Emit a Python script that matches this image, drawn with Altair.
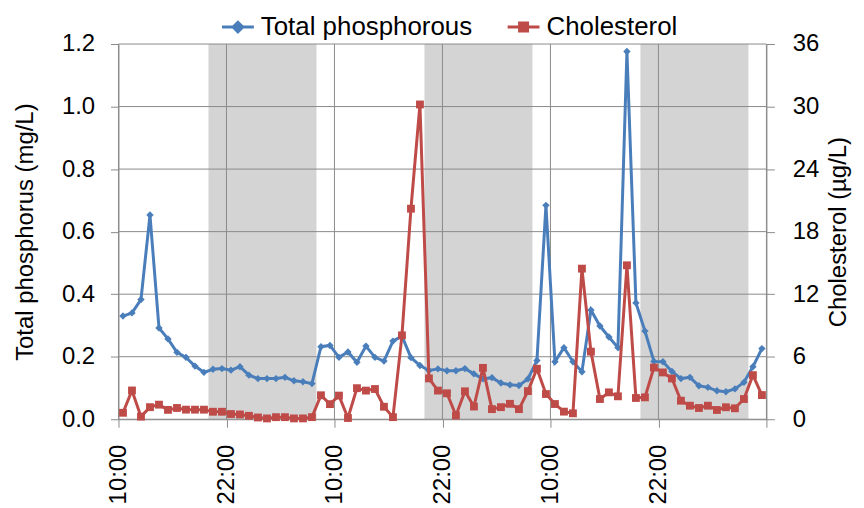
import altair as alt
import pandas as pd

# ---------------- data ----------------
# hourly samples starting 10:30 on day 1
times = pd.date_range("2013-07-01 10:30", periods=72, freq="h").strftime("%Y-%m-%dT%H:%M:%S").tolist()

total_phosphorous = [
    0.330, 0.340, 0.383, 0.653, 0.292, 0.257, 0.214, 0.198, 0.170, 0.150, 0.160, 0.162,
    0.157, 0.168, 0.141, 0.130, 0.130, 0.130, 0.134, 0.123, 0.120, 0.114, 0.232, 0.236,
    0.198, 0.215, 0.182, 0.234, 0.198, 0.186, 0.250, 0.266, 0.197, 0.172, 0.156, 0.161,
    0.155, 0.155, 0.162, 0.145, 0.129, 0.133, 0.116, 0.110, 0.108, 0.129, 0.188, 0.684,
    0.184, 0.229, 0.184, 0.152, 0.349, 0.298, 0.263, 0.229, 1.176, 0.372, 0.282, 0.185,
    0.184, 0.153, 0.130, 0.134, 0.107, 0.102, 0.091, 0.088, 0.097, 0.118, 0.168, 0.226,
]

cholesterol = [
    0.62, 2.76, 0.25, 1.16, 1.40, 0.90, 1.08, 0.92, 0.92, 0.92, 0.72, 0.72,
    0.50, 0.46, 0.33, 0.17, 0.08, 0.20, 0.20, 0.08, 0.08, 0.20, 2.30, 1.45,
    2.27, 0.12, 2.98, 2.75, 2.90, 1.20, 0.20, 8.05, 20.20, 30.20, 3.92, 2.75,
    2.49, 0.36, 2.68, 1.22, 4.93, 0.97, 1.16, 1.48, 0.97, 2.70, 4.85, 2.42,
    1.46, 0.73, 0.57, 14.45, 6.49, 1.94, 2.58, 2.20, 14.77, 2.04, 2.10, 4.96,
    4.49, 3.91, 1.78, 1.30, 1.08, 1.30, 0.89, 1.15, 1.05, 1.94, 4.23, 2.32,
]

night_start = ["2013-07-01T20:00:00", "2013-07-02T20:00:00", "2013-07-03T20:00:00"]
night_end = ["2013-07-02T08:00:00", "2013-07-03T08:00:00", "2013-07-04T08:00:00"]

x_tick_times = ["2013-07-01T10:00:00", "2013-07-01T22:00:00", "2013-07-02T10:00:00",
                "2013-07-02T22:00:00", "2013-07-03T10:00:00", "2013-07-03T22:00:00",
                "2013-07-04T10:00:00"]
tp_ticks = [0.0, 0.2, 0.4, 0.6, 0.8, 1.0, 1.2]
chol_ticks = [0, 6, 12, 18, 24, 30, 36]

series_names = ["Total phosphorous", "Cholesterol"]

# ---------------- style ----------------
BLUE = "#4a7ebb"
RED = "#be4b48"
GRID = "#8a8a8a"
BAND = "#d4d4d4"
FONT = "Liberation Sans"
W, H = 651, 377

df = pd.DataFrame({"time": times, "tp": total_phosphorous, "chol": cholesterol})
df_tp = df.assign(series=series_names[0])
df_ch = df.assign(series=series_names[1])
nights = pd.DataFrame({"start": night_start, "end": night_end})
xgrid = pd.DataFrame({"t": x_tick_times})
ygrid = pd.DataFrame({"v": tp_ticks})


def dt(s):
    ts = pd.Timestamp(s)
    return alt.DateTime(year=ts.year, month=ts.month, date=ts.day, hours=ts.hour, minutes=ts.minute)


x_scale = alt.Scale(domain=[dt(x_tick_times[0]), dt(x_tick_times[-1])], nice=False)
x_axis = alt.Axis(
    values=[dt(t) for t in x_tick_times], format="%H:%M", labelAngle=270,
    labelExpr="datum.index == 1 ? '' : datum.label",
    grid=False, tickSize=8, labelPadding=17, title=None, labelFlush=False,
)


def X(field):
    return alt.X(field, type="temporal", scale=x_scale, axis=x_axis)


tp_scale = alt.Scale(domain=[0, 1.2], nice=False, zero=True)
tp_axis = alt.Axis(values=tp_ticks, format=".1f", grid=False, tickSize=8, labelPadding=16,
                   title="Total phosphorus (mg/L)", titlePadding=24)
ch_scale = alt.Scale(domain=[0, 36], nice=False, zero=True)
ch_axis = alt.Axis(values=chol_ticks, format="d", grid=False, tickSize=8, labelPadding=18,
                   orient="right", title="Cholesterol (µg/L)", titleAngle=270, titlePadding=32)

# background: night bands + vertical grid
bands = alt.Chart(nights).mark_rect(color=BAND).encode(x=X("start"), x2="end:T")
vgrid = alt.Chart(xgrid).mark_rule(color=GRID, strokeWidth=1).encode(x=X("t"))
bg = alt.layer(bands, vgrid)


def legend(x, sym, color):
    return alt.Legend(
        orient="none", legendX=x, legendY=-30, title=None,
        symbolType=sym, symbolSize=256, symbolStrokeWidth=3,
        symbolFillColor=color, symbolStrokeColor=color,
        labelFont=FONT, labelFontSize=26, labelColor="black", labelOffset=10, labelLimit=0,
    )


diamond_path = "M-2,0L2,0M-0.6,0L0,-0.6L0.6,0L0,0.6Z"
square_path = "M-2,0L2,0M-0.5,-0.5L0.5,-0.5L0.5,0.5L-0.5,0.5Z"

tp_color = alt.Color("series:N", scale=alt.Scale(domain=[series_names[0]], range=[BLUE]),
                     legend=legend(107, diamond_path, BLUE))
ch_color = alt.Color("series:N", scale=alt.Scale(domain=[series_names[1]], range=[RED]),
                     legend=legend(394, square_path, RED))

hgrid = alt.Chart(ygrid).mark_rule(color=GRID, strokeWidth=1).encode(
    y=alt.Y("v", type="quantitative", scale=tp_scale, axis=tp_axis))
tp_line = alt.Chart(df_tp).mark_line(strokeWidth=3).encode(
    x=X("time"), y=alt.Y("tp", type="quantitative", scale=tp_scale, axis=tp_axis), color=tp_color)
tp_pts = alt.Chart(df_tp).mark_point(filled=True, shape="diamond", size=55, opacity=1).encode(
    x=X("time"), y=alt.Y("tp", type="quantitative", scale=tp_scale, axis=tp_axis), color=tp_color)
tp_group = alt.layer(hgrid, tp_line, tp_pts)

ch_line = alt.Chart(df_ch).mark_line(strokeWidth=3).encode(
    x=X("time"), y=alt.Y("chol", type="quantitative", scale=ch_scale, axis=ch_axis), color=ch_color)
ch_pts = alt.Chart(df_ch).mark_point(filled=True, shape="square", size=62, opacity=1).encode(
    x=X("time"), y=alt.Y("chol", type="quantitative", scale=ch_scale, axis=ch_axis), color=ch_color)
ch_group = alt.layer(ch_line, ch_pts)

chart = (
    alt.layer(bg, tp_group, ch_group)
    .resolve_scale(y="independent", color="independent")
    .properties(width=W, height=H, background="white")
    .configure_view(strokeWidth=0)
    .configure_axis(
        labelFont=FONT, titleFont=FONT, labelFontSize=24, titleFontSize=24,
        labelColor="black", titleColor="black", titleFontWeight="normal",
        domainColor=GRID, tickColor=GRID, domainWidth=1, tickWidth=1,
    )
)

chart.save("out.html", embed_options={"renderer": "svg", "actions": False})
